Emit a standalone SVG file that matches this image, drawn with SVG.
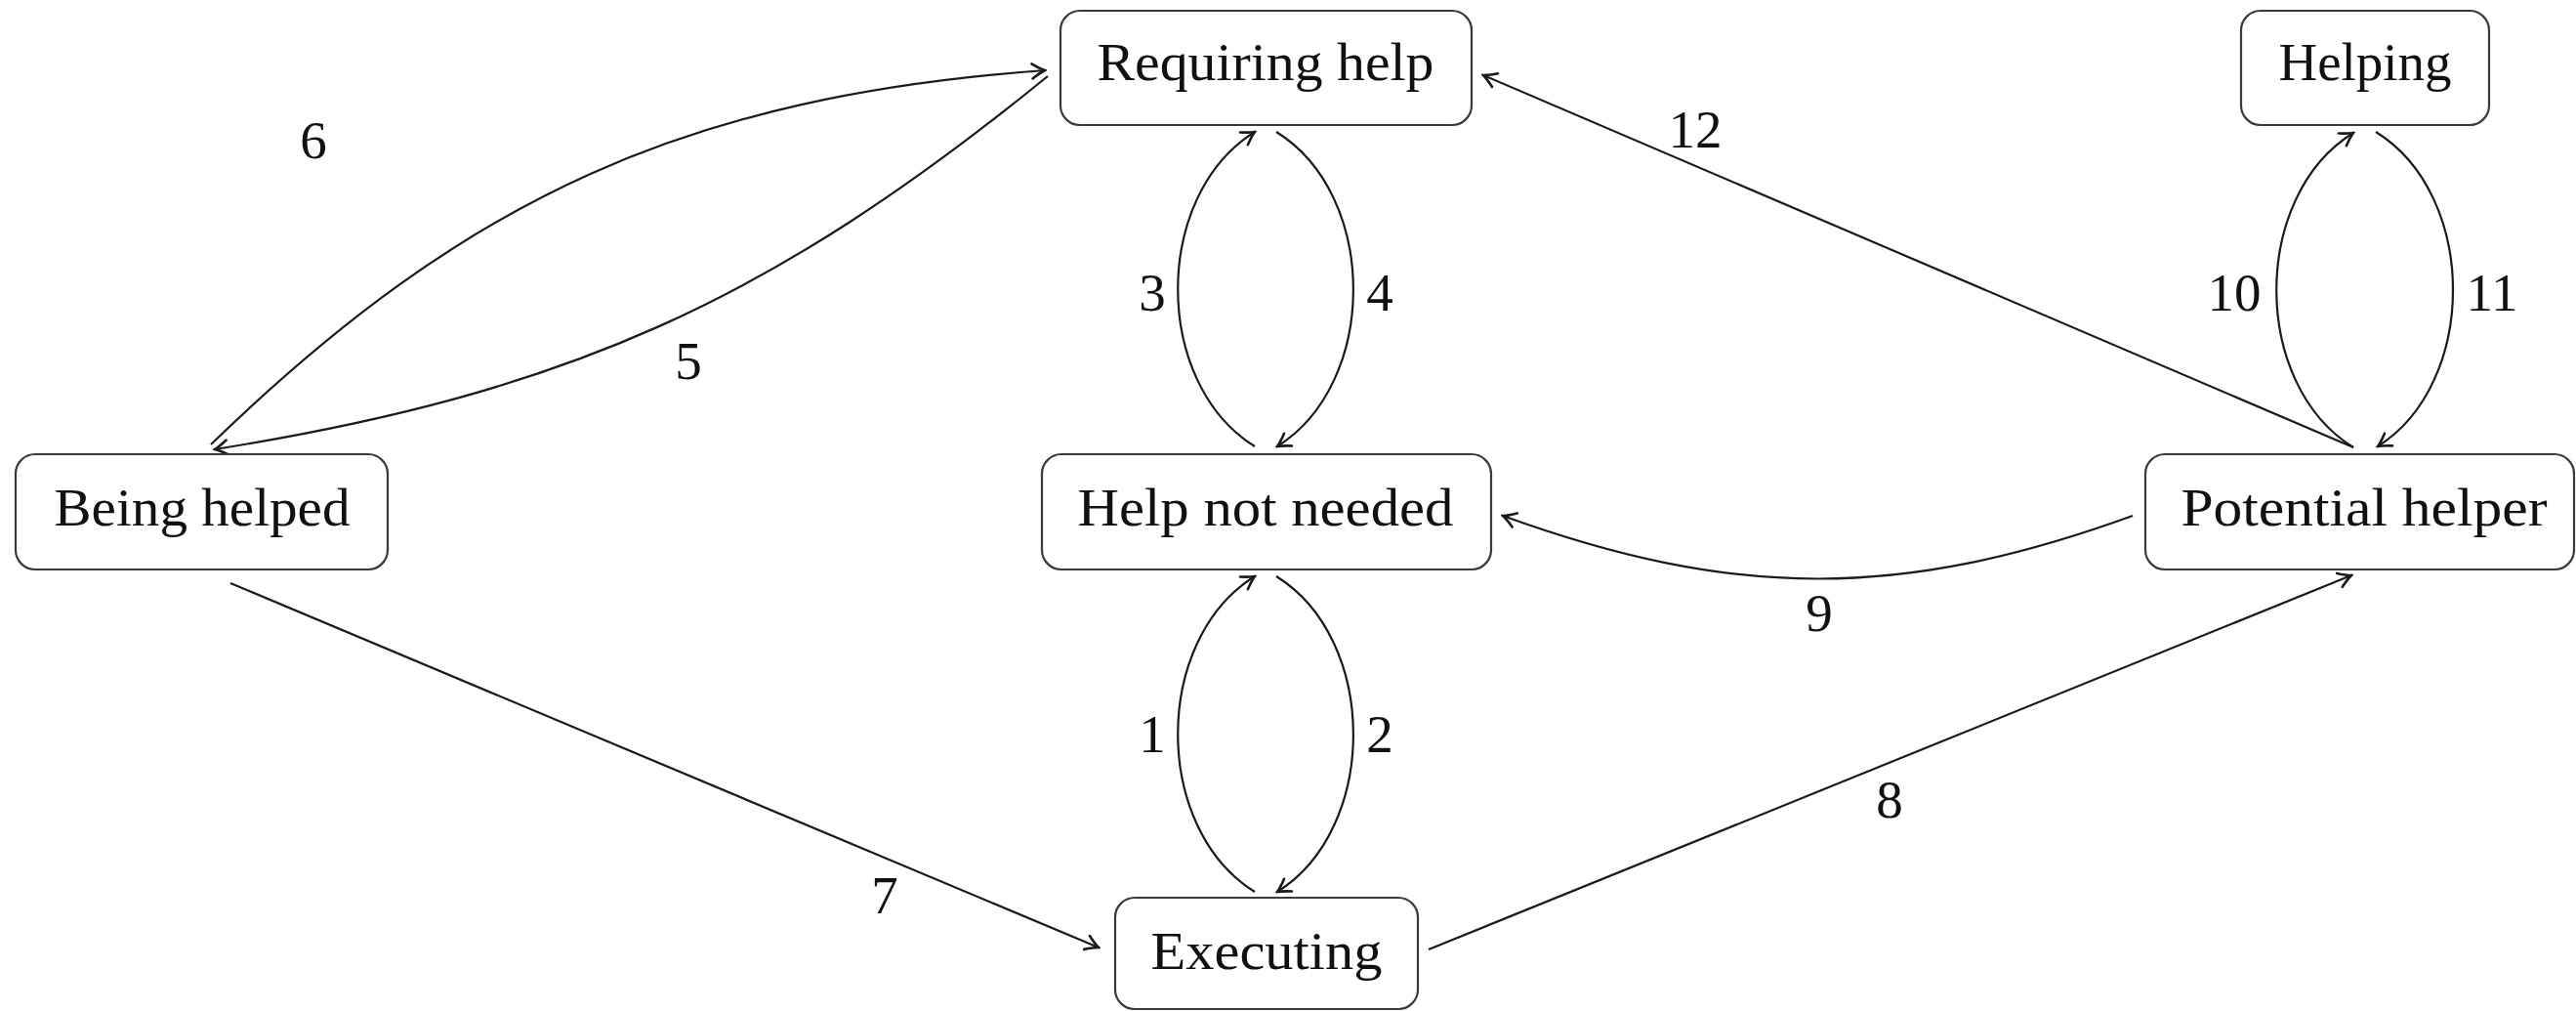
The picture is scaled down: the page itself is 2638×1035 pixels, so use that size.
<svg xmlns="http://www.w3.org/2000/svg" width="2638" height="1035" viewBox="0 0 2638 1035">
  <style>
    .box { fill: #ffffff; stroke: #3a3a3a; stroke-width: 2.2; }
    .name { font-family: "Liberation Serif", "DejaVu Serif", serif; font-size: 55px; fill: #111; text-anchor: middle; }
    .edge { fill: none; stroke: #1a1a1a; stroke-width: 2.2; marker-end: url(#to); }
    .lbl { font-family: "Liberation Serif", "DejaVu Serif", serif; font-size: 55px; fill: #111; text-anchor: middle; }
  </style>
  <defs>
    <marker id="to" markerUnits="userSpaceOnUse" viewBox="-16 -10 18 20" markerWidth="18" markerHeight="20" refX="0" refY="0" orient="auto">
      <path d="M -13 -7.5 Q -5 -2 0 0 Q -5 2 -13 7.5" fill="none" stroke="#1a1a1a" stroke-width="2.6" stroke-linecap="round"/>
    </marker>
  </defs>
  <rect width="2638" height="1035" fill="#ffffff"/>

  <!-- connectors -->
  <g id="connectors">
    <!-- 1 / 2 : Executing <-> Help not needed -->
    <path class="edge" d="M 1285 913 C 1180 848 1180 655 1285 590"/>
    <path class="edge" d="M 1307 590 C 1412 655 1412 848 1308 913"/>
    <!-- 3 / 4 : Help not needed <-> Requiring help -->
    <path class="edge" d="M 1285 457 C 1180 392 1180 200 1285 135"/>
    <path class="edge" d="M 1307 135 C 1412 200 1412 392 1308 457"/>
    <!-- 5 : Requiring help -> Being helped -->
    <path class="edge" d="M 1073 78 C 789 309 581 402 220 460"/>
    <!-- 6 : Being helped -> Requiring help -->
    <path class="edge" d="M 216 455 C 479 200 705 99 1070 72"/>
    <!-- 7 : Being helped -> Executing -->
    <path class="edge" d="M 236 597 L 1125 970"/>
    <!-- 8 : Executing -> Potential helper -->
    <path class="edge" d="M 1463 972 L 2408 589"/>
    <!-- 9 : Potential helper -> Help not needed -->
    <path class="edge" d="M 2184 528 C 1947 614 1776 614 1539 528"/>
    <!-- 10 / 11 : Potential helper <-> Helping -->
    <path class="edge" d="M 2410 458 C 2305 393 2305 201 2410 136"/>
    <path class="edge" d="M 2433 135 C 2538 200 2538 392 2435 457"/>
    <!-- 12 : Potential helper -> Requiring help -->
    <path class="edge" d="M 2410 458 L 1519 77"/>
  </g>

  <g id="edge-labels">
    <text class="lbl" x="1180" y="770">1</text>
    <text class="lbl" x="1413" y="770">2</text>
    <text class="lbl" x="1180" y="318">3</text>
    <text class="lbl" x="1413" y="318">4</text>
    <text class="lbl" x="705" y="388">5</text>
    <text class="lbl" x="321" y="162">6</text>
    <text class="lbl" x="906" y="935">7</text>
    <text class="lbl" x="1935" y="837">8</text>
    <text class="lbl" x="1863" y="646">9</text>
    <text class="lbl" x="2288" y="318">10</text>
    <text class="lbl" x="2552" y="318">11</text>
    <text class="lbl" x="1736" y="151">12</text>
  </g>

  <!-- states -->
  <g id="requiring-help">
    <rect class="box" x="1086" y="11" width="421" height="117" rx="20"/>
    <text class="name" x="1296" y="82" textLength="345" lengthAdjust="spacingAndGlyphs">Requiring help</text>
  </g>
  <g id="helping">
    <rect class="box" x="2295" y="11" width="254" height="117" rx="20"/>
    <text class="name" x="2422" y="82" textLength="177" lengthAdjust="spacingAndGlyphs">Helping</text>
  </g>
  <g id="being-helped">
    <rect class="box" x="16" y="465" width="381" height="118" rx="20"/>
    <text class="name" x="207" y="538" textLength="303" lengthAdjust="spacingAndGlyphs">Being helped</text>
  </g>
  <g id="help-not-needed">
    <rect class="box" x="1067" y="465" width="460" height="118" rx="20"/>
    <text class="name" x="1296" y="538" textLength="385" lengthAdjust="spacingAndGlyphs">Help not needed</text>
  </g>
  <g id="potential-helper">
    <rect class="box" x="2197" y="465" width="439" height="118" rx="20"/>
    <text class="name" x="2421" y="538" textLength="375" lengthAdjust="spacingAndGlyphs">Potential helper</text>
  </g>
  <g id="executing">
    <rect class="box" x="1142" y="919" width="310" height="114" rx="20"/>
    <text class="name" x="1297" y="992" textLength="237" lengthAdjust="spacingAndGlyphs">Executing</text>
  </g>
</svg>
